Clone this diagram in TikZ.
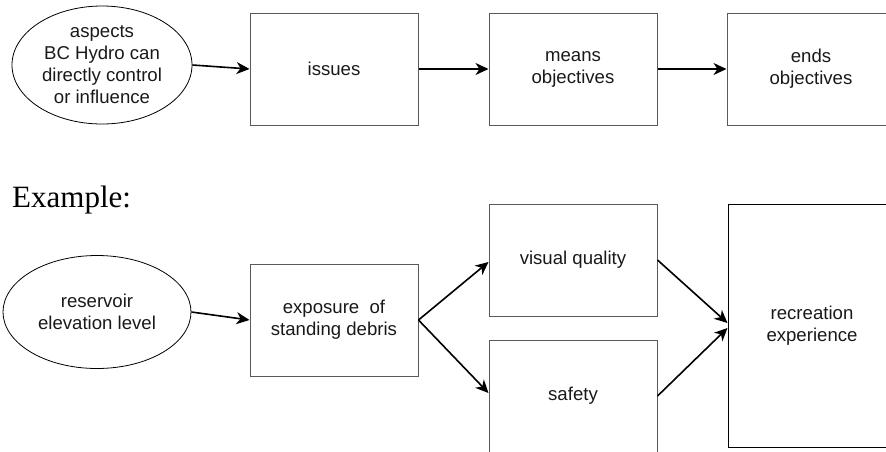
\documentclass[tikz,border=0pt]{standalone}
\usepackage{fontspec}
\setmainfont{Liberation Serif}
\setsansfont{Liberation Sans}
\usetikzlibrary{shapes.geometric,arrows.meta}
\tikzset{
  lbl/.style={font=\sffamily\fontsize{18.6}{22}\selectfont, align=center, text=black!90},
  boxnode/.style={lbl, draw=black!65, line width=1pt, rectangle, inner sep=0pt, minimum width=168pt, minimum height=112pt},
  ellnode/.style={lbl, draw=black, line width=0.8pt, ellipse, inner sep=0pt},
  arr/.style={line width=1.6pt, -{Stealth[length=13pt,width=12pt,inset=4pt]}}
}
\begin{document}
\begin{tikzpicture}[x=1pt,y=-1pt]
\useasboundingbox (0,0) rectangle (886,451);
\clip (0,0) rectangle (886,451);
% top row
\node[ellnode, minimum width=180pt, minimum height=118pt] (asp) at (102,65) {aspects\\BC Hydro can\\directly control\\or influence};
\node[boxnode] (iss) at (334,69) {issues};
\node[boxnode] (mean) at (573,69) {means\\objectives};
\node[boxnode, minimum width=180pt] (ends) at (817,69) {};
\node[lbl] (endst) at (811,69) {ends\\objectives};
\draw[arr] (asp.east) -- (iss.west);
\draw[arr] (iss.east) -- (mean.west);
\draw[arr] (mean.east) -- (ends.west);
% example
\node[anchor=base west, inner sep=0pt, font=\fontsize{31}{36}\selectfont] (ex) at (12,207) {Example:};
\node[ellnode, minimum width=188pt, minimum height=113pt] (res) at (97,312) {reservoir\\elevation level};
\node[boxnode] (exp) at (334,320) {exposure~~of\\standing debris};
\node[boxnode] (vq) at (573,260) {visual quality};
\node[boxnode] (saf) at (573,396) {safety};
\node[boxnode, draw=black, minimum width=180pt, minimum height=243pt] (rec) at (818,325.5) {};
\node[lbl] (rect) at (812,325.5) {recreation\\experience};
\draw[arr] (res.east) -- (exp.west);
\draw[arr] (exp.east) -- ([yshift=-2pt]vq.west);
\draw[arr] (exp.east) -- ([yshift=3pt]saf.west);
\draw[arr] (vq.east) -- ([yshift=2.5pt]rec.west);
\draw[arr] (saf.east) -- ([yshift=-2.5pt]rec.west);
\end{tikzpicture}
\end{document}
